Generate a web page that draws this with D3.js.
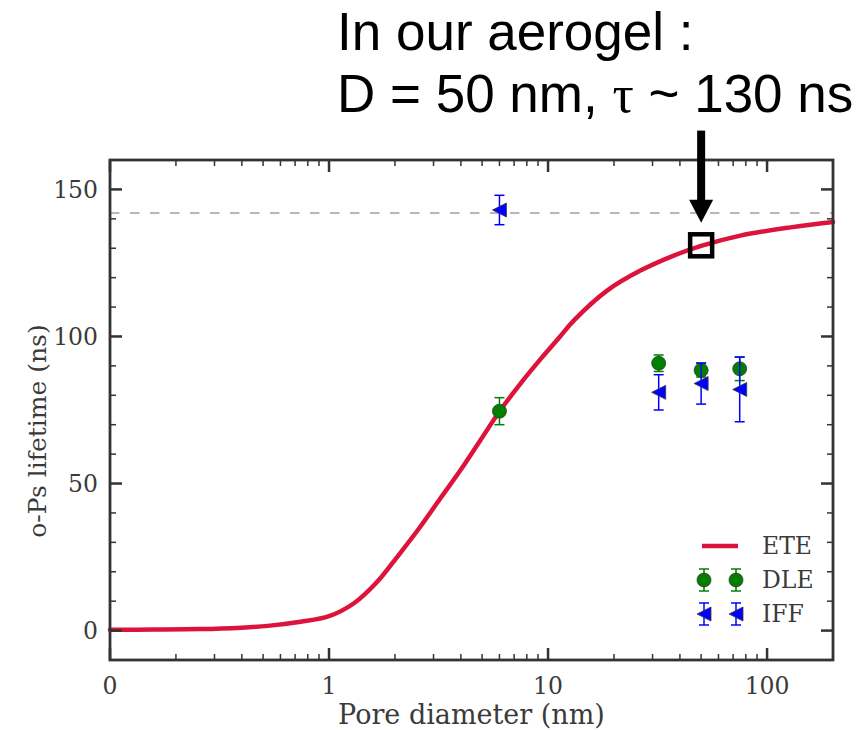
<!DOCTYPE html>
<html>
<head>
<meta charset="utf-8">
<script src="https://cdn.jsdelivr.net/npm/d3@7"></script>
<style>
  body { margin: 0; background: #fff; }
  svg { display: block; }
  .tick-label { font-family: "DejaVu Serif", serif; fill: #3a3a3a; }
</style>
</head>
<body>
<svg id="chart" width="863" height="730"></svg>
<script>
// ETE model curve (pore diameter in nm, lifetime in ns)
const eteD   = [0, 0.2, 0.41, 0.6, 0.72, 0.87, 1, 1.3, 1.66, 2.05, 2.61, 3.22, 3.98, 4.91, 6.0, 7.47, 9.22, 11.3, 13.1, 18.6, 26.4, 37.5, 50, 75.5, 128, 200];
const eteTau = [0.3, 0.35, 0.5, 1.0, 1.6, 3.0, 4.9, 9.3, 16.6, 25.1, 35.3, 44.9, 54.5, 64.7, 74.5, 83.9, 92.2, 99.8, 105.4, 115.6, 122.4, 127.5, 130.8, 134.3, 137.1, 138.9];

// measured points
const dleD   = [6, 32, 50, 75];
const dleTau = [74.6, 90.9, 88.5, 89.0];
const dleErr = [4.6, 2.8, 2.3, 4.0];

const iffD   = [6, 32, 50, 75];
const iffTau = [143, 81.0, 84.0, 82.0];
const iffErr = [5, 6, 7, 11];

const xTickValues = [0, 1, 10, 100];
const yTickValues = [0, 50, 100, 150];
const bulkTau = 142;          // dashed asymptote
const aerogel = { d: 50, tau: 131 };
const arrowFrom = 170, arrowTo = 138.7;

const legendNames = ['ETE', 'DLE', 'IFF'];

const W = 863, H = 730;
const margin = { left: 110, right: 30, top: 160, bottom: 70 };

const svg = d3.select('#chart');

// old-style matplotlib symlog: linear up to 1, then one decade per unit
const fwd = d => d <= 1 ? d : 1 + Math.log10(d);

const xT = d3.scaleLinear()
  .domain([0, fwd(200)])
  .range([margin.left, W - margin.right]);
const x = d => xT(fwd(d));

const y = d3.scaleLinear()
  .domain([-10, 160])
  .range([H - margin.bottom, margin.top]);

const x0 = xT.range()[0], x1 = xT.range()[1];
const y0 = y.range()[0], y1 = y.range()[1];

// minor x ticks, in transformed units
const xMinor = [];
for (let dec = 0; dec < 3; dec++) {
  for (let k = 2; k <= 9; k++) xMinor.push(dec + Math.log10(k));
}
const yMinor = d3.range(-10, 161, 10).filter(v => v % 50 !== 0);

const axisColor = '#333';
const tickFont = '23.5px';

// dashed bulk line
svg.append('line')
  .attr('x1', x0).attr('x2', x1)
  .attr('y1', y(bulkTau)).attr('y2', y(bulkTau))
  .attr('stroke', '#a0a0a0')
  .attr('stroke-width', 1.5)
  .attr('stroke-dasharray', '9.5,10.5');

// ETE curve
const eteData = eteD.map((d, i) => ({ d: d, v: eteTau[i] }));
const line = d3.line()
  .x(p => x(p.d))
  .y(p => y(p.v))
  .curve(d3.curveCatmullRom.alpha(0.5));

svg.append('path')
  .datum(eteData)
  .attr('d', line)
  .attr('fill', 'none')
  .attr('stroke', '#dc143c')
  .attr('stroke-width', 4.5)
  .attr('stroke-linecap', 'round');

// error bars + markers
function errBars(ds, vs, es, color) {
  const g = svg.append('g');
  ds.forEach((d, i) => {
    const cx = x(d);
    const top = y(vs[i] + es[i]), bot = y(vs[i] - es[i]);
    g.append('line').attr('x1', cx).attr('x2', cx).attr('y1', top).attr('y2', bot)
      .attr('stroke', color).attr('stroke-width', 1.5);
    [top, bot].forEach(yy => {
      g.append('line').attr('x1', cx - 5).attr('x2', cx + 5).attr('y1', yy).attr('y2', yy)
        .attr('stroke', color).attr('stroke-width', 1.5);
    });
  });
}

function circle(g, cx, cy) {
  g.append('circle').attr('cx', cx).attr('cy', cy).attr('r', 7)
    .attr('fill', '#008000').attr('stroke', '#3a3a3a').attr('stroke-width', 0.8);
}

function triLeft(g, cx, cy) {
  const s = 7;
  g.append('path')
    .attr('d', `M${cx - s},${cy} L${cx + s},${cy - s} L${cx + s},${cy + s} Z`)
    .attr('fill', '#0000ff').attr('stroke', '#3a3a3a').attr('stroke-width', 0.8);
}

errBars(dleD, dleTau, dleErr, '#008000');
const dleG = svg.append('g');
dleD.forEach((d, i) => circle(dleG, x(d), y(dleTau[i])));

errBars(iffD, iffTau, iffErr, '#0000ff');
const iffG = svg.append('g');
iffD.forEach((d, i) => triLeft(iffG, x(d), y(iffTau[i])));

// aerogel square marker
svg.append('rect')
  .attr('x', x(aerogel.d) - 11).attr('y', y(aerogel.tau) - 11)
  .attr('width', 22).attr('height', 22)
  .attr('fill', 'none')
  .attr('stroke', '#000')
  .attr('stroke-width', 4.5);

// ---- axes: spines + inward ticks on all four sides
const ax = svg.append('g');

xTickValues.forEach(v => {
  const px = x(v);
  ax.append('line').attr('x1', px).attr('x2', px).attr('y1', y0).attr('y2', y0 - 12)
    .attr('stroke', axisColor).attr('stroke-width', 2.5);
  ax.append('line').attr('x1', px).attr('x2', px).attr('y1', y1).attr('y2', y1 + 12)
    .attr('stroke', axisColor).attr('stroke-width', 2.5);
  ax.append('text').attr('class', 'tick-label')
    .attr('x', px).attr('y', y0 + 34)
    .attr('text-anchor', 'middle')
    .style('font-size', tickFont)
    .text(v);
});
xMinor.forEach(t => {
  const px = xT(t);
  ax.append('line').attr('x1', px).attr('x2', px).attr('y1', y0).attr('y2', y0 - 6)
    .attr('stroke', axisColor).attr('stroke-width', 1.5);
  ax.append('line').attr('x1', px).attr('x2', px).attr('y1', y1).attr('y2', y1 + 6)
    .attr('stroke', axisColor).attr('stroke-width', 1.5);
});

yTickValues.forEach(v => {
  const py = y(v);
  ax.append('line').attr('x1', x0).attr('x2', x0 + 12).attr('y1', py).attr('y2', py)
    .attr('stroke', axisColor).attr('stroke-width', 2.5);
  ax.append('line').attr('x1', x1).attr('x2', x1 - 12).attr('y1', py).attr('y2', py)
    .attr('stroke', axisColor).attr('stroke-width', 2.5);
  ax.append('text').attr('class', 'tick-label')
    .attr('x', x0 - 12).attr('y', py)
    .attr('dy', '0.36em')
    .attr('text-anchor', 'end')
    .style('font-size', tickFont)
    .text(v);
});
yMinor.forEach(v => {
  const py = y(v);
  ax.append('line').attr('x1', x0).attr('x2', x0 + 6).attr('y1', py).attr('y2', py)
    .attr('stroke', axisColor).attr('stroke-width', 1.5);
  ax.append('line').attr('x1', x1).attr('x2', x1 - 6).attr('y1', py).attr('y2', py)
    .attr('stroke', axisColor).attr('stroke-width', 1.5);
});

ax.append('rect')
  .attr('x', x0).attr('y', y1)
  .attr('width', x1 - x0).attr('height', y0 - y1)
  .attr('fill', 'none')
  .attr('stroke', axisColor)
  .attr('stroke-width', 2.8);

// axis titles
svg.append('text').attr('class', 'tick-label')
  .attr('x', (x0 + x1) / 2).attr('y', 724)
  .attr('text-anchor', 'middle')
  .style('font-size', '27px')
  .text('Pore diameter (nm)');

svg.append('text').attr('class', 'tick-label')
  .attr('transform', `translate(46,431) rotate(-90)`)
  .attr('text-anchor', 'middle')
  .style('font-size', '25px')
  .text('o-Ps lifetime (ns)');

// ---- legend
const lg = svg.append('g');
const lgX1 = 704, lgX2 = 736, lgText = 762;
const lgY = [546, 580, 614];

lg.append('line').attr('x1', 702).attr('x2', 738).attr('y1', lgY[0]).attr('y2', lgY[0])
  .attr('stroke', '#dc143c').attr('stroke-width', 4.5);

[lgX1, lgX2].forEach(px => {
  [['#008000', lgY[1]], ['#0000ff', lgY[2]]].forEach(([c, py]) => {
    lg.append('line').attr('x1', px).attr('x2', px).attr('y1', py - 11).attr('y2', py + 11)
      .attr('stroke', c).attr('stroke-width', 1.5);
    [py - 11, py + 11].forEach(yy => {
      lg.append('line').attr('x1', px - 5).attr('x2', px + 5).attr('y1', yy).attr('y2', yy)
        .attr('stroke', c).attr('stroke-width', 1.5);
    });
  });
  circle(lg, px, lgY[1]);
  triLeft(lg, px, lgY[2]);
});

legendNames.forEach((n, i) => {
  lg.append('text').attr('class', 'tick-label')
    .attr('x', lgText).attr('y', lgY[i])
    .attr('dy', '0.36em')
    .style('font-size', '23.5px')
    .text(n);
});

// ---- annotation
const ann = svg.append('g');
const t = ann.append('text')
  .style('font-family', '"Liberation Sans", Arial, sans-serif')
  .style('font-size', '53px')
  .attr('fill', '#000');
t.append('tspan').attr('x', 337).attr('y', 50).text('In our aerogel :');
const l2 = t.append('tspan').attr('x', 337).attr('y', 112);
l2.append('tspan').text('D = 50 nm, ');
l2.append('tspan').style('font-family', '"Liberation Serif", serif').text('τ');
l2.append('tspan').text(' ~ 130 ns');

// arrow pointing at the aerogel marker
const ax0 = x(aerogel.d);
const headLen = 23, headW = 12;
ann.append('line')
  .attr('x1', ax0).attr('x2', ax0)
  .attr('y1', y(arrowFrom)).attr('y2', y(arrowTo) - headLen + 1)
  .attr('stroke', '#000').attr('stroke-width', 8);
ann.append('path')
  .attr('d', `M${ax0 - headW},${y(arrowTo) - headLen} L${ax0 + headW},${y(arrowTo) - headLen} L${ax0},${y(arrowTo)} Z`)
  .attr('fill', '#000');
</script>
</body>
</html>
